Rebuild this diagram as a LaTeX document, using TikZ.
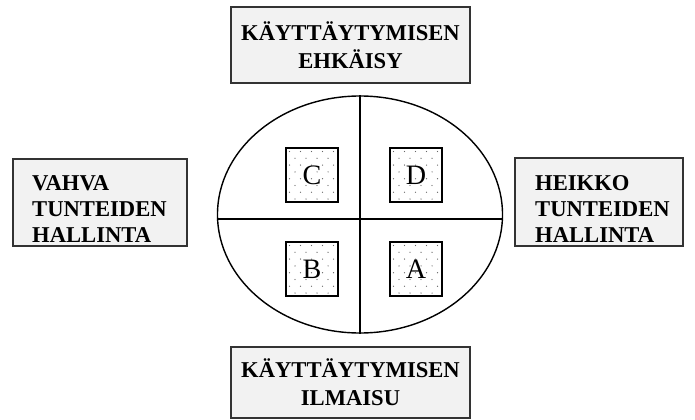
\documentclass[tikz,border=0pt]{standalone}
\usepackage{fontspec}
\setmainfont{Liberation Serif}
\usetikzlibrary{calc,shapes.geometric}
\tikzset{
labelbox/.style={
	draw=black!80, line width=1.2pt, fill=black!5, inner sep=0pt},
labeltext/.style={
	font=\bfseries\fontsize{19.3}{22.2}\selectfont, inner sep=0pt},
dotbox/.style={
	draw, line width=1pt, fill=white, minimum width=1.56cm,
	minimum height=1.62cm, font=\fontsize{24}{26}\selectfont,
	path picture={
	  \foreach \r in {0,...,7}{
	    \foreach \c in {0,...,4}{
	      \fill[black!60] ($(path picture bounding box.north west)
	        +({(\c+0.5*mod(\r,2))*9.4pt+3pt},{-\r*5.8pt-3pt})$) circle (0.55pt);
	  }}}}
}

\begin{document}
\begin{tikzpicture}[x=0.03cm, y=-0.03cm]
	\useasboundingbox (0,0) rectangle (695,420);
	% boxes round the oval
	\node[labelbox, minimum width=7.17cm, minimum height=2.28cm] (top) at (350.5,45) {};
	\node[labelbox, minimum width=7.17cm, minimum height=2.13cm] (bottom) at (350.5,382.5) {};
	\node[labelbox, minimum width=5.22cm, minimum height=2.61cm] (left) at (100,202.5) {};
	\node[labelbox, minimum width=5.04cm, minimum height=2.64cm] (right) at (599,202) {};
	\node[labeltext, align=center, font=\bfseries\fontsize{19.3}{23.9}\selectfont] (topT) at (top) {KÄYTTÄYTYMISEN\\EHKÄISY};
	\node[labeltext, align=center, font=\bfseries\fontsize{19.3}{23.9}\selectfont] (bottomT) at (bottom) {KÄYTTÄYTYMISEN\\ILMAISU};
	\node[labeltext, align=left, anchor=south west] (leftT) at (32,243) {VAHVA\\TUNTEIDEN\\HALLINTA};
	\node[labeltext, align=left, anchor=south west] (rightT) at (535,243) {HEIKKO\\TUNTEIDEN\\HALLINTA};

	% the oval and its quarters
	\node[ellipse, draw, line width=1.2pt, minimum width=8.55cm, minimum height=7.11cm, inner sep=0pt] (oval) at (360,214.5) {};
	\draw[line width=1.6pt] (oval.north) -- (oval.south);
	\draw[line width=1.6pt] ($(oval.west)+(0,4.5)$) -- ($(oval.east)+(0,4.5)$);

	\node[dotbox] (C) at (312,175) {C};
	\node[dotbox] (D) at (416,175) {D};
	\node[dotbox] (B) at (312,269) {B};
	\node[dotbox] (A) at (416,269) {A};
\end{tikzpicture}
\end{document}
